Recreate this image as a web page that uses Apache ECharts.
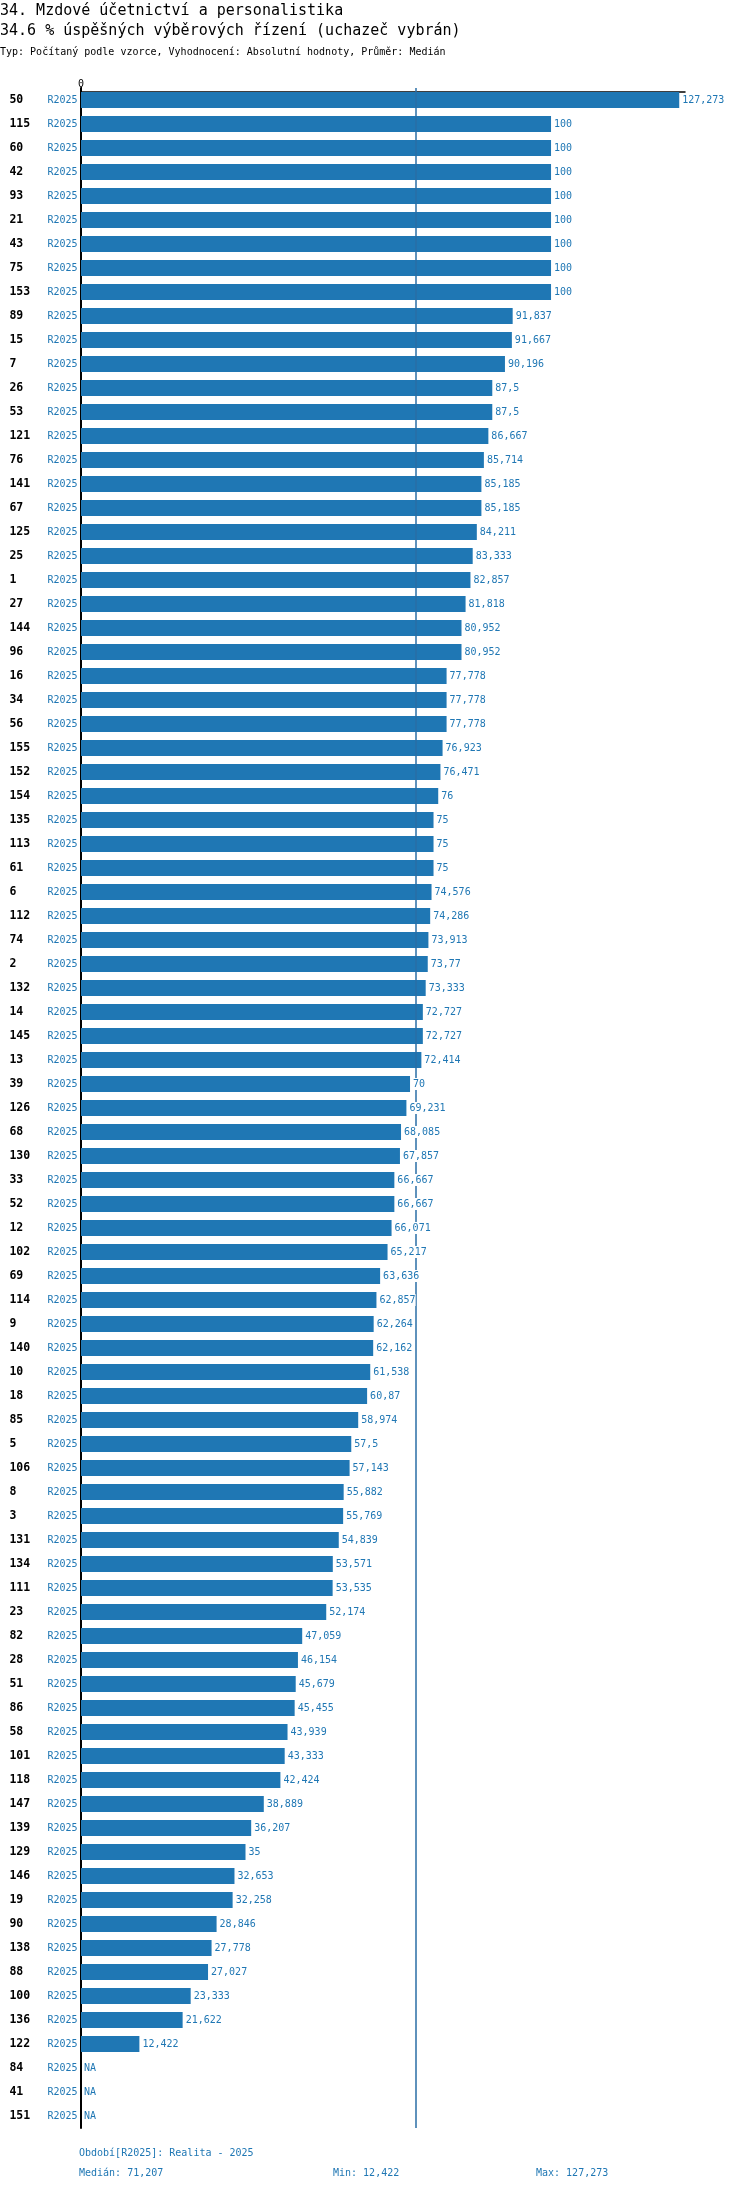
<!DOCTYPE html>
<html>
<head>
<meta charset="utf-8">
<script src="https://cdn.jsdelivr.net/npm/echarts@6/dist/echarts.min.js"></script>
<style>html,body{margin:0;padding:0;background:#fff}#c{width:750px;height:2192px}</style>
</head>
<body>
<div id="c"></div>
<script>
const titleMain = '34. Mzdové účetnictví a personalistika';
const titleSub = '34.6 % úspěšných výběrových řízení (uchazeč vybrán)';
const titleInfo = 'Typ: Počítaný podle vzorce, Vyhodnocení: Absolutní hodnoty, Průměr: Medián';
const periodCode = 'R2025';
const periodNote = 'Období[R2025]: Realita - 2025';

const ids = ['50','115','60','42','93','21','43','75','153','89','15','7','26','53','121','76','141','67','125','25','1','27','144','96','16','34','56','155','152','154','135','113','61','6','112','74','2','132','14','145','13','39','126','68','130','33','52','12','102','69','114','9','140','10','18','85','5','106','8','3','131','134','111','23','82','28','51','86','58','101','118','147','139','129','146','19','90','138','88','100','136','122','84','41','151'];
const values = [127.273,100,100,100,100,100,100,100,100,91.837,91.667,90.196,87.5,87.5,86.667,85.714,85.185,85.185,84.211,83.333,82.857,81.818,80.952,80.952,77.778,77.778,77.778,76.923,76.471,76,75,75,75,74.576,74.286,73.913,73.77,73.333,72.727,72.727,72.414,70,69.231,68.085,67.857,66.667,66.667,66.071,65.217,63.636,62.857,62.264,62.162,61.538,60.87,58.974,57.5,57.143,55.882,55.769,54.839,53.571,53.535,52.174,47.059,46.154,45.679,45.455,43.939,43.333,42.424,38.889,36.207,35,32.653,32.258,28.846,27.778,27.027,23.333,21.622,12.422,null,null,null];

const FONT = 'DejaVu Sans Mono';
const BLUE = '#1f77b4';
const fmt = v => String(Math.round(v * 1000) / 1000).replace('.', ',');
const valid = values.filter(v => v !== null).slice().sort((a, b) => a - b);
const n = valid.length;
const median = n % 2 ? valid[(n - 1) / 2] : (valid[n / 2 - 1] + valid[n / 2]) / 2;
const vmin = valid[0], vmax = valid[n - 1];

const chart = echarts.init(document.getElementById('c'), null, {renderer: 'canvas'});
const txt = (text, left, top, size, color, weight) => ({
  text, left, top, padding: 0,
  textStyle: {fontFamily: FONT, fontSize: size, color, fontWeight: weight || 'normal'}
});
chart.setOption({
  animation: false,
  backgroundColor: '#fff',
  title: [
    txt(titleMain, 0, 4, 15, '#000'),
    txt(titleSub, 0, 24, 15, '#000'),
    txt(titleInfo, 0, 47, 10, '#000'),
    txt(periodNote, 79, 2148, 10, BLUE),
    txt('Medián: ' + fmt(median), 79, 2168, 10, BLUE),
    txt('Min: ' + fmt(vmin), 333, 2168, 10, BLUE),
    txt('Max: ' + fmt(vmax), 536, 2168, 10, BLUE)
  ],
  grid: {left: 81, top: 88, width: 604, height: 2040, containLabel: false},
  xAxis: {
    type: 'value', position: 'top', min: 0, max: 128.5, interval: 200, offset: -4,
    axisLine: {show: true, lineStyle: {color: '#000', width: 1.5}},
    axisTick: {show: true, length: 5, lineStyle: {color: '#000'}},
    axisLabel: {fontFamily: FONT, fontSize: 10, color: '#000', margin: 3, showMaxLabel: false},
    splitLine: {show: false}
  },
  yAxis: {
    type: 'category', inverse: true, data: ids,
    axisLine: {show: true, lineStyle: {color: '#000', width: 2}},
    axisTick: {show: false},
    axisLabel: {
      margin: 3.5,
      formatter: v => '{a|' + v + '}{b|' + periodCode + '}',
      rich: {
        a: {fontFamily: FONT, fontSize: 11.5, fontWeight: 'bold', color: '#000', width: 38, align: 'left'},
        b: {fontFamily: FONT, fontSize: 10, color: BLUE}
      }
    }
  },
  series: [
    {
      type: 'bar', data: values.map(v => v === null ? '-' : v), barWidth: 16, z: 2,
      itemStyle: {color: BLUE},
      markLine: {
        silent: true, symbol: 'none', z: 5,
        label: {show: false},
        lineStyle: {color: '#2a6ea6', width: 1.5, type: 'solid'},
        data: [{xAxis: median}]
      }
    },
    {
      type: 'bar', data: values.map(v => v === null ? 0 : v), barWidth: 16, barGap: '-100%', z: 10,
      itemStyle: {color: 'rgba(0,0,0,0)'},
      label: {
        show: true, position: 'right', distance: 3,
        fontFamily: FONT, fontSize: 10, color: BLUE,
        backgroundColor: '#fff', padding: [1, 0],
        formatter: p => values[p.dataIndex] === null ? 'NA' : fmt(values[p.dataIndex])
      }
    }
  ]
});
</script>
</body>
</html>
